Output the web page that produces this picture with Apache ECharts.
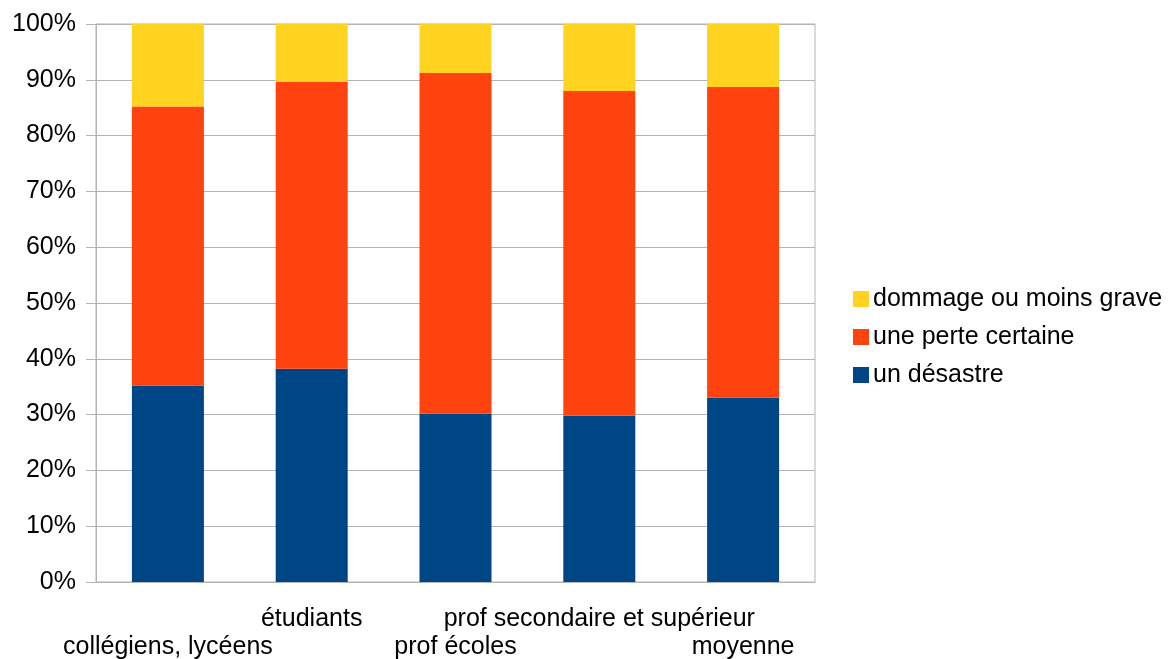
<!DOCTYPE html>
<html>
<head>
<meta charset="utf-8">
<script src="https://cdn.jsdelivr.net/npm/echarts@6/dist/echarts.min.js"></script>
<style>html,body{margin:0;padding:0;background:#fff}#c{width:1174px;height:659px}</style>
</head>
<body>
<div id="c"></div>
<script>
const categories = ['collégiens, lycéens', 'étudiants', 'prof écoles', 'prof secondaire et supérieur', 'moyenne'];
const desastre = [35.2, 38.2, 30.2, 29.8, 33.0];
const perte = [50.0, 51.4, 61.0, 58.2, 55.7];
const dommage = [14.8, 10.4, 8.8, 12.0, 11.3];
const seriesNames = ['un désastre', 'une perte certaine', 'dommage ou moins grave'];
const colors = ['#004586', '#FF420E', '#FFD320'];

const chart = echarts.init(document.getElementById('c'), null, {renderer: 'canvas'});
const font = 'Liberation Sans';
const values = [desastre, perte, dommage];
chart.setOption({
  animation: false,
  textStyle: {fontFamily: font},
  grid: {left: 96, right: 359, top: 24, bottom: 77, outerBoundsMode: 'none', containLabel: false,
    show: true, borderColor: '#b3b3b3', borderWidth: 1, backgroundColor: 'transparent'},
  legend: {
    orient: 'vertical', left: 848, top: 280,
    data: seriesNames.slice().reverse(),
    itemWidth: 16, itemHeight: 16, itemGap: 10,
    icon: 'rect',
    textStyle: {fontSize: 25, lineHeight: 28, color: '#000', fontFamily: font, padding: [0, 0, 0, -1]}
  },
  xAxis: {
    type: 'category', data: categories,
    axisLine: {lineStyle: {color: '#b3b3b3'}},
    axisTick: {length: 10, lineStyle: {color: '#b3b3b3'}},
    axisLabel: {
      interval: 0, fontSize: 25, color: '#000', margin: 23, lineHeight: 28, fontFamily: font,
      formatter: (v, i) => (i % 2 === 0 ? '\n' + v : v)
    }
  },
  yAxis: {
    type: 'value', min: 0, max: 100, interval: 10,
    axisLine: {show: true, lineStyle: {color: '#b3b3b3'}},
    axisTick: {show: true, length: 10, lineStyle: {color: '#b3b3b3'}},
    splitLine: {lineStyle: {color: '#b3b3b3'}},
    axisLabel: {formatter: '{value}%', fontSize: 25, color: '#000', margin: 20, fontFamily: font}
  },
  series: seriesNames.map((n, k) => ({
    name: n, type: 'bar', stack: 'total', barWidth: 72,
    itemStyle: {color: colors[k]},
    data: values[k]
  }))
});
</script>
</body>
</html>
